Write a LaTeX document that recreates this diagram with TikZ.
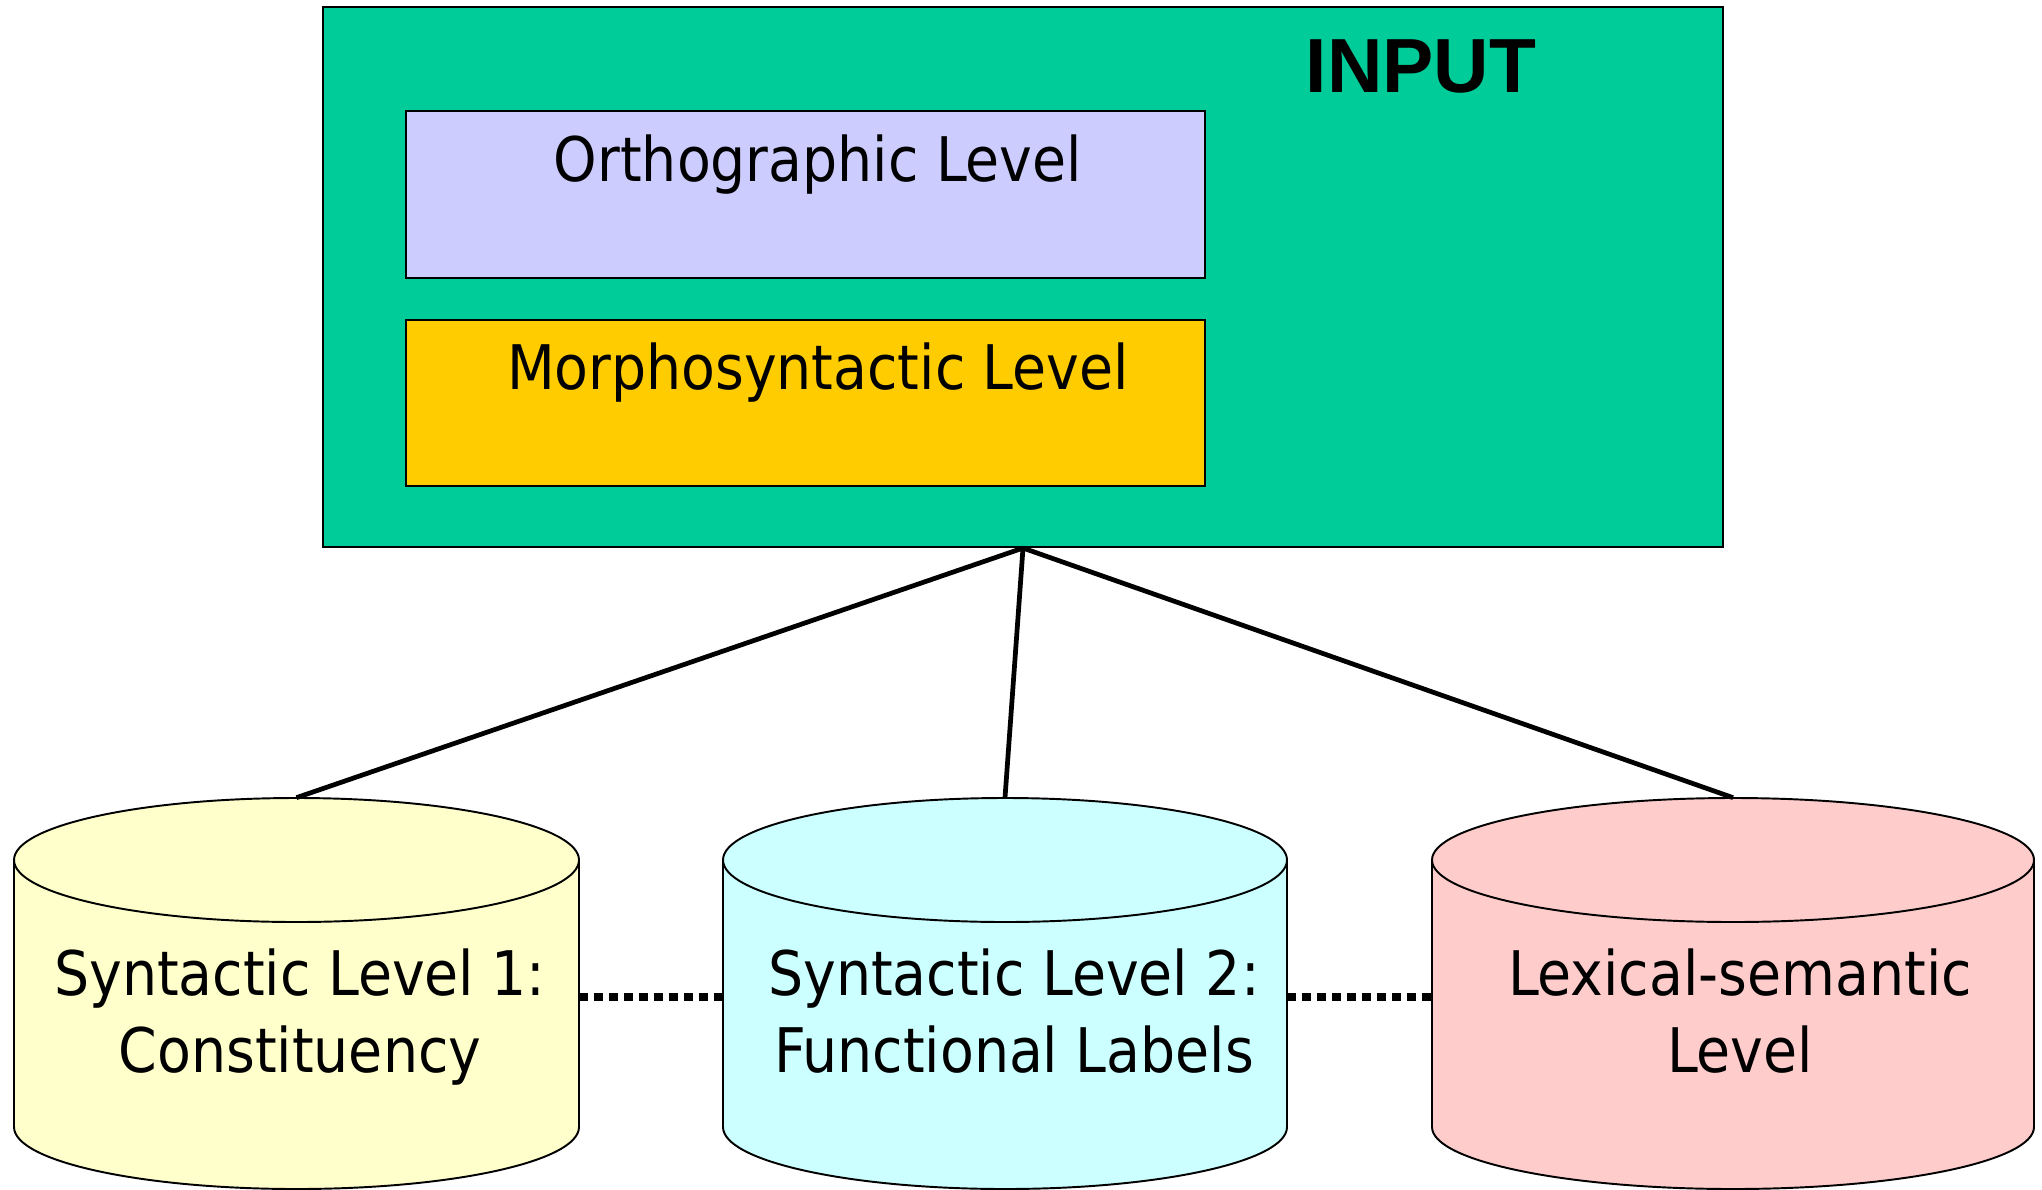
\documentclass[tikz,border=0pt]{standalone}
\usepackage{fontspec}
\setmainfont{DejaVu Sans Condensed}
\newfontfamily\inputfont{Liberation Sans}
\usetikzlibrary{fit}
\definecolor{boxgreen}{RGB}{0,204,153}
\definecolor{lavender}{RGB}{204,204,255}
\definecolor{gold}{RGB}{255,204,0}
\definecolor{paleyellow}{RGB}{255,255,204}
\definecolor{palecyan}{RGB}{204,255,255}
\definecolor{palepink}{RGB}{255,204,204}
\newcommand\mycyl[3]{%
  \pgfmathsetmacro\cx{(#1+#2)/2}%
  \pgfmathsetmacro\rx{(#2-#1)/2}%
  \filldraw[cylline, fill=#3] (\cx,1127) ellipse[x radius=\rx, y radius=62];
  \fill[#3] (#1,860) rectangle (#2,1127);
  \draw[cylline] (#1,860) -- (#1,1127) (#2,860) -- (#2,1127);
  \filldraw[cylline, fill=#3] (\cx,860) ellipse[x radius=\rx, y radius=62];
}
\begin{document}
\begin{tikzpicture}[x=0.02cm,y=-0.02cm,
  boxline/.style={draw=black, line width=1.2pt, inner sep=0pt},
  cylline/.style={draw=black, line width=1.1pt},
  conn/.style={draw=black, line width=2.7pt},
  dotline/.style={draw=black, line width=4.5pt, dash pattern=on 5.1pt off 3.4pt},
  lbl/.style={font=\fontsize{35}{43.8}\selectfont, inner sep=0pt},
  area/.style={inner sep=0pt}]
\useasboundingbox (0,0) rectangle (2042,1190);
\fill[white] (0,0) rectangle (2042,1190);
% input box
\node[boxline, fill=boxgreen, fit={(323,7) (1723,547)}] (input) {};
\node[boxline, fill=lavender, fit={(406,111) (1205,278)}] (ortho) {};
\node[boxline, fill=gold, fit={(406,320) (1205,486)}] (morph) {};
\node[lbl, anchor=base] (orthoT) at (818,181) {Orthographic Level};
\node[lbl, anchor=base] (morphT) at (818,389) {Morphosyntactic Level};
\node[font=\inputfont\bfseries\fontsize{43.7}{50}\selectfont, inner sep=0pt, anchor=base] (inputT) at (1421,92) {INPUT};
% cylinders
\mycyl{14}{579}{paleyellow}
\mycyl{723}{1287}{palecyan}
\mycyl{1432}{2034}{palepink}
\node[area, fit={(14,798) (579,1196)}] (cylL) {};
\node[area, fit={(723,798) (1287,1196)}] (cylM) {};
\node[area, fit={(1432,798) (2034,1196)}] (cylR) {};
\node[lbl, align=center, anchor=base] (cylLT) at (300,1072) {Syntactic Level 1:\\Constituency};
\node[lbl, align=center, anchor=base] (cylMT) at (1014,1072) {Syntactic Level 2:\\Functional Labels};
\node[lbl, align=center, anchor=base] (cylRT) at (1740,1072) {Lexical-semantic\\Level};
% connectors
\draw[conn] (input.south) -- (cylL.north);
\draw[conn] (input.south) -- (cylM.north);
\draw[conn] (input.south) -- (cylR.north);
\draw[dotline] (cylL.east) -- (cylM.west);
\draw[dotline] (cylM.east) -- (cylR.west);
\end{tikzpicture}
\end{document}
